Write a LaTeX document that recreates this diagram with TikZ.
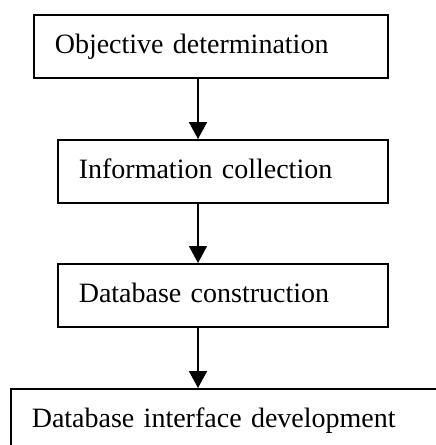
\documentclass[tikz,border=0pt]{standalone}
\usepackage{fontspec}
\setmainfont{Liberation Serif}
\usetikzlibrary{arrows.meta}
\begin{document}
\begin{tikzpicture}[
  stagebox/.style={draw,line width=1.6pt,anchor=north west,
    minimum height=63pt,inner xsep=21pt,inner ysep=0pt,
    text height=20pt,text depth=6pt,align=left,
    font=\fontsize{28}{34}\selectfont},
  flow/.style={line width=1.6pt,-{Triangle[width=18pt,length=17pt]}}]
  % page frame in pt, y measured downward as negative values
  \useasboundingbox (0pt,0pt) rectangle (436pt,-445pt);
  \clip (0pt,0pt) rectangle (436pt,-445pt);
  \fill[white] (0pt,0pt) rectangle (436pt,-445pt);
  \node[stagebox,text width=312pt] (obj) at (33pt,-14pt) {Objective determination};
  \node[stagebox,text width=288pt] (info) at (57pt,-139pt) {Information collection};
  \node[stagebox,text width=288pt] (dbc) at (57pt,-263pt) {Database construction};
  \node[stagebox,text width=420pt] (dbi) at (10pt,-388pt) {Database interface development};
  \coordinate (axis) at (198pt,0pt);
  \draw[flow] (obj.south -| axis) -- (info.north -| axis);
  \draw[flow] (info.south -| axis) -- (dbc.north -| axis);
  \draw[flow] (dbc.south -| axis) -- (dbi.north -| axis);
\end{tikzpicture}
\end{document}
